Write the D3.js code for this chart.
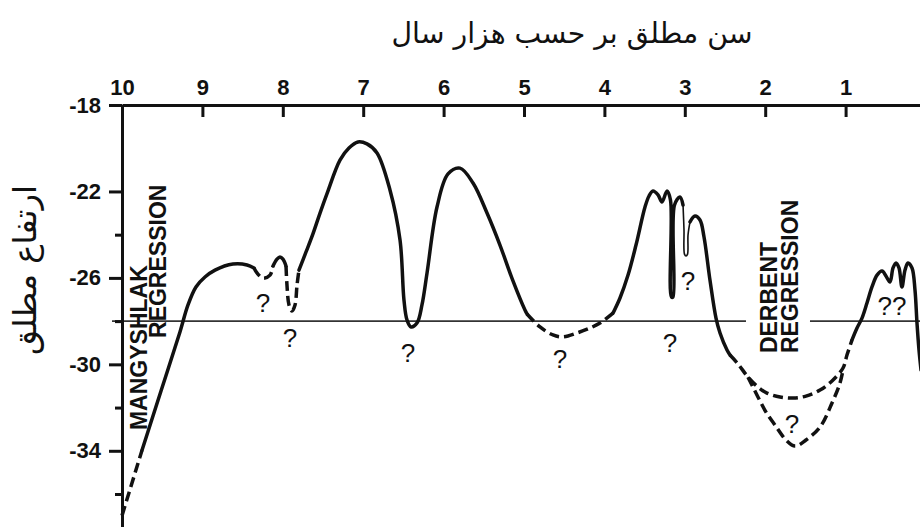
<!DOCTYPE html>
<html><head><meta charset="utf-8">
<script src="https://cdn.jsdelivr.net/npm/d3@7"></script>
<style>html,body{margin:0;padding:0;background:#fff;} svg{display:block}</style>
</head><body><svg id="c" width="920" height="527"></svg>
<script>
// ---- data ----
const ageTicks = [10, 9, 8, 7, 6, 5, 4, 3, 2, 1];          // thousand years BP
const depthTicks = [-18, -22, -26, -30, -34];              // absolute elevation, m
const minorDepthTicks = [-24, -28, -32, -36];
const titleText = "سن مطلق بر حسب هزار سال";
const yLabelText = "ارتفاع مطلق";
const referenceLevel = -28;
const referenceGap = [2.239, 1.443];

// curve segments [age ka, level m]
const segA = [[10.0,-37.0],[9.75,-33.96]];
const segB = [[9.75,-33.96],[9.515,-31.23],[9.279,-28.50],[9.179,-27.25],[9.080,-26.42],[8.968,-25.96],[8.843,-25.64],[8.62,-25.36],[8.445,-25.40],[8.358,-25.54]];
const segC = [[8.358,-25.54],[8.321,-25.77],[8.246,-26.01],[8.159,-25.87],[8.122,-25.45]];
const segD = [[8.122,-25.45],[8.072,-25.13],[8.035,-25.03],[7.998,-25.13],[7.960,-25.45]];
const segE = [[7.960,-25.45],[7.948,-26.33],[7.923,-27.25],[7.886,-27.53],[7.848,-27.25],[7.823,-26.33],[7.799,-25.64]];
const segF = [[7.799,-25.64],[7.711,-24.80],[7.624,-23.95],[7.537,-23.00],[7.450,-22.10],[7.289,-20.55],[7.177,-19.99],[7.065,-19.71],[6.953,-19.80],[6.828,-20.22],[6.667,-21.93],[6.542,-24.25],[6.493,-27.02],[6.455,-27.95],[6.405,-28.27],[6.331,-28.09],[6.269,-27.25],[6.206,-25.77],[6.082,-22.72],[5.945,-21.19],[5.796,-20.92],[5.634,-21.61],[5.460,-23.00],[5.299,-24.48],[5.137,-26.14],[4.988,-27.49],[4.963,-27.67]];
const segG = [[4.963,-27.67],[4.801,-28.27],[4.640,-28.64],[4.515,-28.73],[4.341,-28.55],[4.179,-28.32],[4.055,-28.09],[3.893,-27.63]];
const segH = [[3.893,-27.63],[3.806,-26.93],[3.706,-25.87],[3.607,-24.48],[3.495,-22.72],[3.445,-22.21],[3.396,-21.98],[3.333,-22.16],[3.284,-22.49],[3.221,-21.98],[3.178,-22.40],[3.166,-26.88],[3.147,-26.88],[3.128,-22.63],[3.060,-22.26],[3.022,-22.63]];
const segI = [[3.022,-22.63],[3.010,-23.78],[3.004,-24.90],[2.985,-24.99],[2.966,-24.90],[2.960,-24.02],[2.935,-23.41]];
const segJ = [[2.935,-23.41],[2.873,-23.14],[2.811,-23.32],[2.761,-24.11],[2.687,-26.10],[2.612,-27.86],[2.562,-28.55],[2.475,-29.34],[2.438,-29.57]];
const segK = [[2.438,-29.57],[2.338,-29.98],[2.214,-30.59],[2.090,-31.05],[1.978,-31.33],[1.816,-31.51],[1.654,-31.56],[1.493,-31.47],[1.318,-31.19],[1.169,-30.77],[1.032,-30.17],[0.983,-29.57],[0.920,-28.87]];
const segL = [[2.214,-30.59],[2.090,-31.51],[1.990,-32.21],[1.878,-32.81],[1.741,-33.50],[1.629,-33.78],[1.493,-33.50],[1.318,-32.90],[1.169,-31.79],[1.070,-30.87],[1.032,-30.26]];
const segN = [[0.920,-28.87],[0.858,-28.32],[0.796,-27.86],[0.734,-27.16],[0.672,-26.42],[0.609,-25.87],[0.547,-25.68],[0.498,-25.91],[0.448,-26.19],[0.410,-25.54],[0.373,-25.31],[0.336,-25.54],[0.299,-26.42],[0.261,-25.64],[0.224,-25.31],[0.174,-25.54],[0.137,-26.56],[0.112,-28.09],[0.087,-29.34],[0.062,-30.26]];

const questionMarks = [[8.246,-27.58,"?"],[7.910,-29.20,"?"],[6.443,-29.89,"?"],[4.552,-30.17,"?"],[3.184,-29.43,"?"],[2.960,-26.56,"?"],[1.667,-33.18,"?"],[0.423,-27.72,"??"]];
const regressionLabels = [[9.689,-33.04,"MANGYSHLAK"],[9.453,-28.78,"REGRESSION"],[1.853,-29.48,"DERBENT"],[1.592,-29.48,"REGRESSION"]];

// ---- drawing ----
const segments = [
  {d: segA, s: "dashed"}, {d: segB, s: "solid"}, {d: segC, s: "dashed"}, {d: segD, s: "solid"},
  {d: segE, s: "dashed"}, {d: segF, s: "solid"}, {d: segG, s: "dashed"}, {d: segH, s: "solid"},
  {d: segI, s: "thin"}, {d: segJ, s: "solid"}, {d: segK, s: "dashed"}, {d: segL, s: "dashed"},
  {d: segN, s: "solid"}
];
const ink = "#111";
const svg = d3.select("#c");
const x = d3.scaleLinear().domain([10, 0]).range([122, 926]);
const y = d3.scaleLinear().domain([-18, -37.6]).range([105, 528.6]);

// reference level line
const refG = svg.append("g").attr("stroke", "#333").attr("stroke-width", 1.8);
refG.append("line").attr("x1", x(10) - 10).attr("x2", x(referenceGap[0])).attr("y1", y(referenceLevel)).attr("y2", y(referenceLevel));
refG.append("line").attr("x1", x(referenceGap[1])).attr("x2", 920).attr("y1", y(referenceLevel)).attr("y2", y(referenceLevel));

// axes
const topAxis = svg.append("g").attr("transform", `translate(0,${y(-18)})`)
  .call(d3.axisTop(x).tickValues(ageTicks).tickSize(-12).tickSizeOuter(0).tickPadding(10).tickFormat(d3.format("d")));
const leftAxis = svg.append("g").attr("transform", `translate(${x(10)},0)`)
  .call(d3.axisLeft(y).tickValues(depthTicks).tickSize(13).tickSizeOuter(0).tickPadding(8).tickFormat(d => String(d)));
const minorAxis = svg.append("g").attr("transform", `translate(${x(10)},0)`)
  .call(d3.axisLeft(y).tickValues(minorDepthTicks).tickSize(7).tickSizeOuter(0).tickFormat(() => ""));
minorAxis.select(".domain").remove();
[topAxis, leftAxis, minorAxis].forEach(g => {
  g.selectAll("path.domain").attr("stroke", ink).attr("stroke-width", 3);
  g.selectAll(".tick line").attr("stroke", ink).attr("stroke-width", 3);
  g.selectAll(".tick text").attr("fill", ink).attr("font-family", "'Liberation Sans', Arial, sans-serif")
    .attr("font-size", 22).attr("font-weight", "bold");
});

// curve
const line = d3.line().x(d => x(d[0])).y(d => y(d[1])).curve(d3.curveCatmullRom.alpha(0.5));
svg.append("g").selectAll("path").data(segments).join("path")
  .attr("d", s => line(s.d))
  .attr("fill", "none")
  .attr("stroke", ink)
  .attr("stroke-linecap", s => s.s === "dashed" ? "butt" : "round")
  .attr("stroke-linejoin", "round")
  .attr("stroke-width", s => s.s === "thin" ? 1.6 : 3.5)
  .attr("stroke-dasharray", s => s.s === "dashed" ? "10,5" : null);

// question marks
svg.append("g").selectAll("text").data(questionMarks).join("text")
  .attr("x", d => x(d[0])).attr("y", d => y(d[1]))
  .attr("text-anchor", "middle")
  .attr("font-family", "'Liberation Sans', Arial, sans-serif").attr("font-size", 26)
  .attr("fill", ink).text(d => d[2]);

// regression labels
svg.append("g").selectAll("text").data(regressionLabels).join("text")
  .attr("transform", d => `translate(${x(d[0])},${y(d[1])}) rotate(-90)`)
  .attr("font-family", "'Liberation Sans', Arial, sans-serif").attr("font-size", 23).attr("font-weight", "bold")
  .attr("fill", ink).text(d => d[2]);

// title
const title = svg.append("text").attr("x", 572).attr("y", 43).attr("text-anchor", "middle")
  .attr("direction", "rtl").attr("font-family", "'DejaVu Sans', sans-serif").attr("font-size", 20)
  .attr("fill", ink).text(titleText);
const tw = title.node().getComputedTextLength();
title.attr("font-size", 20 * 361 / tw);

// y label
const yl = svg.append("text").attr("transform", "translate(36,270) rotate(-90)").attr("text-anchor", "middle")
  .attr("direction", "rtl").attr("font-family", "'DejaVu Sans', sans-serif").attr("font-size", 20)
  .attr("fill", ink).text(yLabelText);
const yw = yl.node().getComputedTextLength();
yl.attr("font-size", 20 * 170 / yw);
</script></body></html>
